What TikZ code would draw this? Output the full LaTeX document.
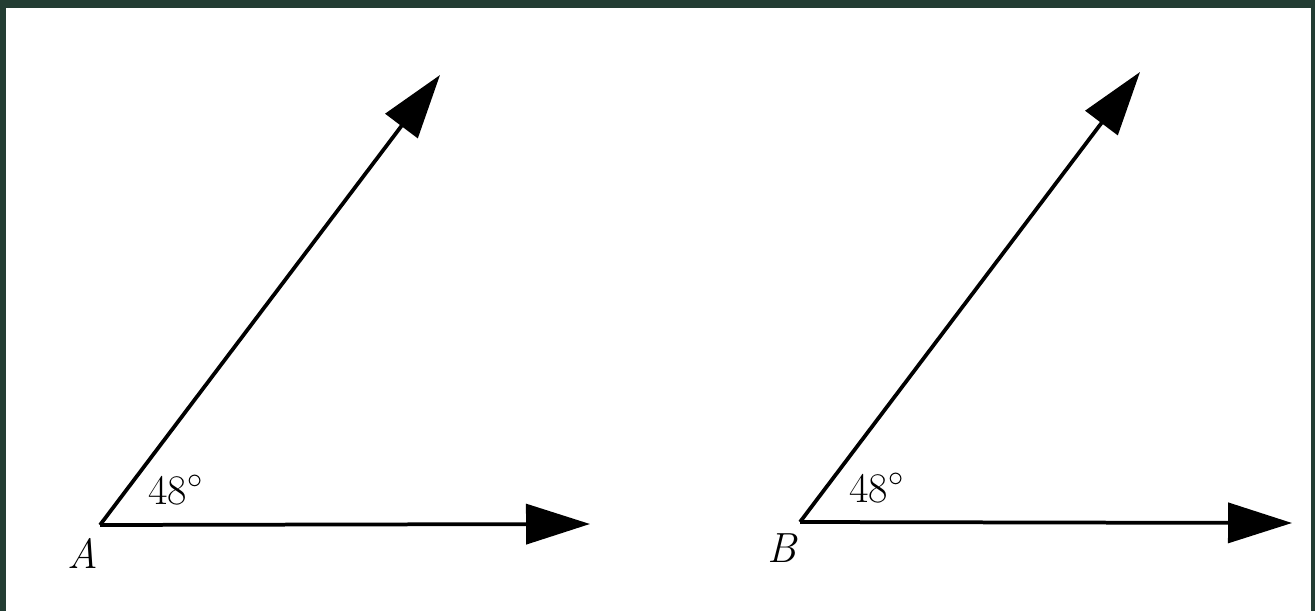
\documentclass[tikz,border=0pt]{standalone}
\usetikzlibrary{arrows.meta}
\definecolor{frame}{HTML}{233D33}
\tikzset{
  ray/.style = {line width=0.075cm, -{Triangle[length=1.28cm, width=0.8cm]}},
  lbl/.style = {inner sep=0pt, font=\fontsize{24}{28}\selectfont}
}
\begin{document}
\begin{tikzpicture}[x = 0.02cm, y = -0.02cm]
			\fill[frame] (0,0) rectangle (1315,611);
			\fill[white] (6,8) rectangle (1311,611);
			\useasboundingbox (0,0) rectangle (1315,611);
			
			% Angle A
			\coordinate (va) at (100,525);
			\coordinate (ta1) at (440,75);
			\coordinate (ta2) at (590,524);
			\draw[ray] (va) -- (ta1);
			\draw[ray] (va) -- (ta2);
			\node[lbl] (aa) at (176,490) {48$^\circ$};
			\node[lbl] (na) at (83,553) {\textit{A}};
			
			% Angle B
			\coordinate (vb) at (800,522);
			\coordinate (tb1) at (1140,72);
			\coordinate (tb2) at (1292,523);
			\draw[ray] (vb) -- (tb1);
			\draw[ray] (vb) -- (tb2);
			\node[lbl] (ab) at (877,488) {48$^\circ$};
			\node[lbl] (nb) at (783,548) {\textit{B}};
		\end{tikzpicture}
\end{document}
